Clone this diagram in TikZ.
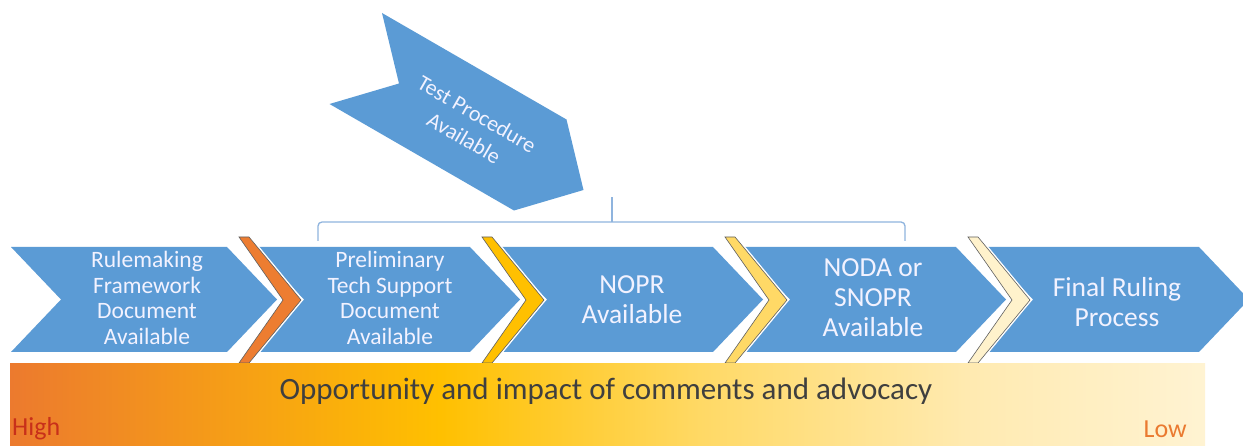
\documentclass[tikz,border=0pt]{standalone}
\usepackage{fontspec}
\setmainfont{Carlito}
\definecolor{arrowblue}{HTML}{5B9BD5}
\definecolor{chevA}{HTML}{ED7D31}
\definecolor{chevB}{HTML}{FFC000}
\definecolor{chevC}{HTML}{FFD966}
\definecolor{chevD}{HTML}{FFF2CC}
\definecolor{braceblue}{HTML}{8FB4DE}
\definecolor{bartext}{HTML}{3F3F3F}
\definecolor{hightext}{HTML}{C8301A}
\definecolor{lowtext}{HTML}{EA7A30}
\definecolor{gzero}{HTML}{EC7A2E}
\definecolor{gone}{HTML}{FFC000}
\definecolor{gtwo}{HTML}{FFD966}
\definecolor{gthree}{HTML}{FFEAB0}
\definecolor{gfour}{HTML}{FFF3D2}
% TikZ maps the path's box onto the 25bp--75bp part of the shading
\pgfdeclarehorizontalshading{advbar}{100bp}{color(0bp)=(gzero); color(25bp)=(gzero); color(43bp)=(gone); color(54bp)=(gtwo); color(65bp)=(gthree); color(75bp)=(gfour); color(100bp)=(gfour)}
\tikzset{
  arrowbody/.style={fill=arrowblue},
  chevwhite/.style={draw=white, line width=3.5pt, line join=miter},
  chevfill/.style={draw=gray!75!black, line width=0.6pt},
  smalltxt/.style={text=white!95!blue, align=center, inner sep=0pt, font=\fontsize{23.5}{25.5}\selectfont},
  bigtxt/.style={text=white!95!blue, align=center, inner sep=0pt, font=\fontsize{27.5}{30}\selectfont},
  tptxt/.style={text=white!95!blue, inner sep=0pt, rotate=-30, font=\fontsize{22}{27}\selectfont},
  bracestyle/.style={draw=braceblue, line width=1.3pt, rounded corners=4pt},
}
\begin{document}
\begin{tikzpicture}[x=1pt,y=-1pt]
\useasboundingbox (0,0) rectangle (1243,446);
\fill[white] (0,0) rectangle (1243,446);

% main arrows
\foreach \s in {11,254,497,740,983} {
  \fill[arrowbody] (\s,247) -- ++(216,0) -- ++(50,52.5) -- ++(-50,52.5) -- ++(-216,0) -- ++(50,-52.5) -- cycle;
}

% chevrons at the junctions
\foreach \t/\c in {301/chevA,544/chevB,787/chevC,1030/chevD} {
  \path[chevwhite] (\t-62,237) -- (\t-52,237) -- (\t,300) -- (\t-52,363) -- (\t-62,363) -- (\t-18,300) -- cycle;
  \path[chevfill, fill=\c] (\t-62,237) -- (\t-52,237) -- (\t,300) -- (\t-52,363) -- (\t-62,363) -- (\t-18,300) -- cycle;
}

% test procedure arrow
\fill[arrowbody] (382,13) -- (566.5,119.5) -- (583.5,190) -- (514,210.5) -- (329.5,104) -- (399,83.5) -- cycle;
\node[tptxt] (tpa) at (477,114) {Test Procedure};
\node[tptxt] (tpb) at (464,138) {Available};

% brace
\coordinate (bl) at (318,241);
\coordinate (br) at (905,241);
\coordinate (bm) at (612,222);
\coordinate (bt) at (612,197);
\draw[bracestyle] (bl) -- (318,222) -- (905,222) -- (br);
\draw[bracestyle] (bm) -- (bt);

% arrow texts
\node[smalltxt] (rf) at (147,298) {Rulemaking\\Framework\\Document\\Available};
\node[smalltxt] (pt) at (390,298) {Preliminary\\Tech Support\\Document\\Available};
\node[bigtxt] (nopr) at (632,300) {NOPR\\Available};
\node[bigtxt] (noda) at (873,298) {NODA or\\SNOPR\\Available};
\node[bigtxt] (final) at (1117,302) {Final Ruling\\Process};

% gradient bar
\shade[shading=advbar] (10,364) rectangle (1205,446);
\node[text=bartext, inner sep=0pt, font=\fontsize{31}{34}\selectfont] (opp) at (606,391) {Opportunity and impact of comments and advocacy};
\node[text=hightext, inner sep=0pt, anchor=west, font=\fontsize{26}{30}\selectfont] (high) at (12,429) {High};
\node[text=lowtext, inner sep=0pt, anchor=east, font=\fontsize{26}{30}\selectfont] (low) at (1187,429) {Low};
\end{tikzpicture}
\end{document}
